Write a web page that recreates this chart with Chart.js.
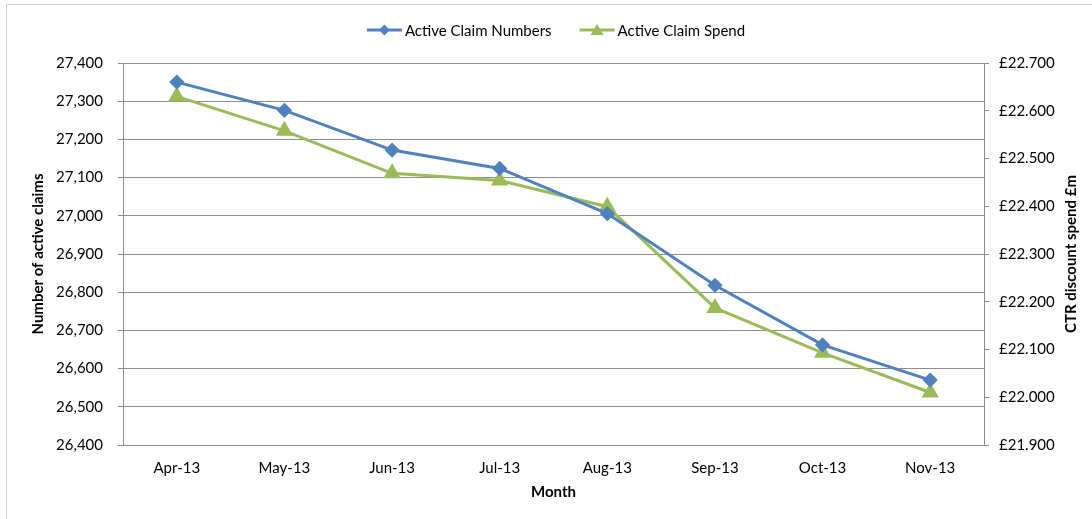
<!DOCTYPE html>
<html>
<head>
<meta charset="utf-8">
<script src="https://cdn.jsdelivr.net/npm/chart.js@4.4.1/dist/chart.umd.min.js"></script>
<style>
  html, body { margin: 0; padding: 0; background: #fff; }
  #wrap { position: relative; width: 1092px; height: 519px; }
  #frame { position: absolute; left: 6px; top: 4px; width: 1200px; height: 600px; border: 1px solid #d0d0d0; box-sizing: border-box; }
  canvas { position: absolute; left: 0; top: 0; }
</style>
</head>
<body>
<div id="wrap">
  <div id="frame"></div>
  <canvas id="myChart" width="1092" height="519"></canvas>
</div>
<script>
const months = ['Apr-13', 'May-13', 'Jun-13', 'Jul-13', 'Aug-13', 'Sep-13', 'Oct-13', 'Nov-13'];
const claimNumbers = [27350, 27276, 27172, 27124, 27006, 26818, 26662, 26570];
const claimSpend = [22.630, 22.558, 22.469, 22.454, 22.399, 22.187, 22.093, 22.010];

const blue = '#4f81bd';
const green = '#9bbb59';
const gridGrey = '#8c8c8c';
const font = 'Lato, "Open Sans", sans-serif';

function drawMarker(g, shape, color, x, y) {
    g.fillStyle = color;
    g.beginPath();
    if (shape == 'diamond') {
        g.moveTo(x, y - 5.5); g.lineTo(x + 5.5, y); g.lineTo(x, y + 5.5); g.lineTo(x - 5.5, y);
    } else {
        g.moveTo(x, y - 6); g.lineTo(x + 6.5, y + 5); g.lineTo(x - 6.5, y + 5);
    }
    g.closePath();
    g.fill();
}

// legend like the Excel one: short line, marker on it, then the name
const lineLegend = {
    id: 'lineLegend',
    afterDraw(chart) {
        var g = chart.ctx;
        var items = chart.data.datasets;
        var shapes = ['diamond', 'triangle'];
        g.save();
        g.font = '15px ' + font;
        var lineW = 35, gap = 3, spacing = 28;
        var total = 0;
        items.forEach(function (ds, i) {
            total += lineW + gap + g.measureText(ds.label).width;
            if (i < items.length - 1) total += spacing;
        });
        var x = 556 - total / 2;
        var y = 30;
        items.forEach(function (ds, i) {
            g.strokeStyle = ds.borderColor;
            g.lineWidth = 3;
            g.beginPath();
            g.moveTo(x, y);
            g.lineTo(x + lineW, y);
            g.stroke();
            drawMarker(g, shapes[i], ds.borderColor, x + lineW / 2, y);
            x += lineW + gap;
            g.fillStyle = '#000';
            g.textAlign = 'left';
            g.textBaseline = 'middle';
            g.fillText(ds.label, x, y + 1);
            x += g.measureText(ds.label).width + spacing;
        });
        g.restore();
    }
};

// right axis title reads bottom to top, so draw it ourselves
const rightTitle = {
    id: 'rightTitle',
    afterDraw(chart) {
        var g = chart.ctx;
        var area = chart.chartArea;
        g.save();
        g.translate(1071, (area.top + area.bottom) / 2);
        g.rotate(-Math.PI / 2);
        g.font = 'bold 15px ' + font;
        g.fillStyle = '#000';
        g.textAlign = 'center';
        g.textBaseline = 'middle';
        g.fillText('CTR discount spend £m', 0, 0);
        g.restore();
    }
};

var ctx = document.getElementById('myChart').getContext('2d');
var chart = new Chart(ctx, {
    type: 'line',
    data: {
        labels: months,
        datasets: [{
            label: 'Active Claim Numbers',
            data: claimNumbers,
            yAxisID: 'y',
            borderColor: blue,
            backgroundColor: blue,
            borderWidth: 3,
            pointStyle: 'rectRot',
            pointRadius: 5.5,
            pointHoverRadius: 5.5,
            tension: 0
        }, {
            label: 'Active Claim Spend',
            data: claimSpend,
            yAxisID: 'y1',
            borderColor: green,
            backgroundColor: green,
            borderWidth: 3,
            pointStyle: 'triangle',
            pointRadius: 7,
            pointHoverRadius: 7,
            tension: 0
        }]
    },
    options: {
        responsive: false,
        animation: false,
        layout: { padding: { top: 63, left: 0, right: 0, bottom: 0 } },
        plugins: {
            tooltip: { enabled: false },
            legend: { display: false }
        },
        scales: {
            x: {
                offset: true,
                grid: { display: true, drawOnChartArea: false, drawTicks: false },
                border: { color: gridGrey, width: 1 },
                ticks: { color: '#000', padding: 14, maxRotation: 0, font: { family: font, size: 15 } },
                title: { display: true, text: 'Month', color: '#000', padding: { top: 0, bottom: 18 }, font: { family: font, size: 15, weight: 'bold' } },
                afterFit: function (s) { s.height = 74; }
            },
            y: {
                position: 'left',
                min: 26400,
                max: 27400,
                ticks: {
                    stepSize: 100,
                    color: '#000',
                    padding: 15,
                    font: { family: font, size: 15 },
                    callback: function (v) { return v.toLocaleString('en-US'); }
                },
                grid: { color: gridGrey, tickLength: 5, lineWidth: 1 },
                border: { color: gridGrey, width: 1 },
                title: { display: true, text: 'Number of active claims', color: '#000', padding: { top: 29, bottom: 0 }, font: { family: font, size: 15, weight: 'bold' } },
                afterFit: function (s) { s.width = 123; }
            },
            y1: {
                position: 'right',
                min: 21.9,
                max: 22.7,
                ticks: {
                    stepSize: 0.1,
                    color: '#000',
                    padding: 10,
                    font: { family: font, size: 15 },
                    callback: function (v) { return '£' + v.toFixed(3); }
                },
                grid: { color: gridGrey, drawOnChartArea: false, tickLength: 5 },
                border: { color: gridGrey, width: 1 },
                afterFit: function (s) { s.width = 108; }
            }
        }
    },
    plugins: [lineLegend, rightTitle]
});
</script>
</body>
</html>
